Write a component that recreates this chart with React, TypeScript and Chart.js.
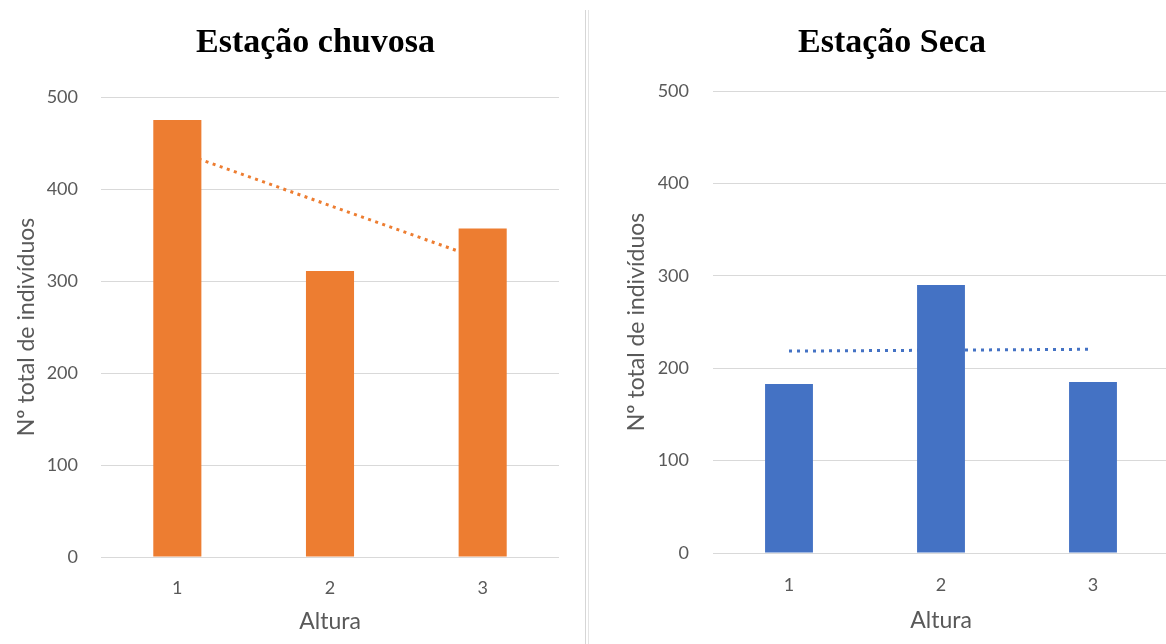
import React, { useEffect, useRef } from "react";
import { Chart, registerables } from "chart.js";

Chart.register(...registerables);

// ---- data ----
const categories = ["1", "2", "3"];
const rainyValues = [475, 311, 357];
const rainyTrend = [441, 382, 323];
const dryValues = [183, 290, 185];
const dryTrend = [218.5, 219.5, 220.5];
const yMin = 0;
const yMax = 500;
const yStep = 100;
const panelTitles = ["Estação chuvosa", "Estação Seca"];
const yAxisTitle = "Nº total de indivíduos";
const xAxisTitle = "Altura";

const ORANGE = "#ED7D31";
const BLUE = "#4472C4";
const GRID = "#D9D9D9";
const TEXT = "#595959";

type Panel = {
  title: string;
  values: number[];
  trend: number[];
  color: string;
  left: number;
  width: number;
  pad: { left: number; right: number; top: number; bottom: number };
  titlePad: { top: number; bottom: number };
  titleLeft: number | null;
  yWidth: number;
  yTitlePadTop: number;
  yTickPad: number;
  xHeight: number;
  xTickPad: number;
  xTitlePadBottom: number;
  dash: number[];
};

const panels: Panel[] = [
  {
    title: panelTitles[0],
    values: rainyValues,
    trend: rainyTrend,
    color: ORANGE,
    left: 0,
    width: 588,
    pad: { left: 0, right: 29, top: 0, bottom: 0 },
    titlePad: { top: 23, bottom: 33.2 },
    titleLeft: 72,
    yWidth: 101,
    yTitlePadTop: 13.2,
    yTickPad: 23,
    xHeight: 87,
    xTickPad: 20,
    xTitlePadBottom: 8.2,
    dash: [3, 4.5],
  },
  {
    title: panelTitles[1],
    values: dryValues,
    trend: dryTrend,
    color: BLUE,
    left: 590,
    width: 600,
    pad: { left: 25, right: 21, top: 0, bottom: 0 },
    titlePad: { top: 23, bottom: 27.2 },
    titleLeft: null,
    yWidth: 98,
    yTitlePadTop: 8.2,
    yTickPad: 24,
    xHeight: 91,
    xTickPad: 21,
    xTitlePadBottom: 9.2,
    dash: [3, 5],
  },
];

function ChartPanel({ p }: { p: Panel }) {
  const ref = useRef<HTMLCanvasElement | null>(null);
  useEffect(() => {
    if (!ref.current) return;
    const titleShift = {
      id: "titleShift",
      afterLayout(chart: any) {
        if (p.titleLeft !== null && chart.titleBlock) {
          chart.titleBlock.left = p.titleLeft;
        }
      },
    };
    const chart = new Chart(ref.current, {
      type: "bar",
      data: {
        labels: categories,
        datasets: [
          {
            type: "bar",
            data: p.values,
            backgroundColor: p.color,
            categoryPercentage: 0.315,
            barPercentage: 1,
            order: 0,
          } as any,
          {
            type: "line",
            data: p.trend,
            borderColor: p.color,
            borderWidth: 3,
            borderDash: p.dash,
            pointRadius: 0,
            fill: false,
            tension: 0,
            order: 1,
          } as any,
        ],
      },
      plugins: [titleShift],
      options: {
        animation: false,
        responsive: false,
        devicePixelRatio: 1,
        layout: { padding: p.pad },
        plugins: {
          legend: { display: false },
          tooltip: { enabled: false },
          title: {
            display: true,
            text: p.title,
            color: "#000000",
            font: { family: "'Liberation Serif', 'Times New Roman', serif", size: 34, weight: "bold" },
            padding: p.titlePad,
          },
        },
        scales: {
          x: {
            grid: { display: false, drawTicks: false },
            border: { display: false },
            ticks: {
              color: TEXT,
              font: { family: "Lato", size: 18 },
              padding: p.xTickPad,
            },
            title: {
              display: true,
              text: xAxisTitle,
              color: TEXT,
              font: { family: "Lato", size: 23 },
              padding: { top: 0, bottom: p.xTitlePadBottom },
            },
            afterFit: (s: any) => {
              s.height = p.xHeight;
            },
          },
          y: {
            min: yMin,
            max: yMax,
            grid: { color: GRID, lineWidth: 1, drawTicks: false },
            border: { display: false },
            ticks: {
              stepSize: yStep,
              color: TEXT,
              font: { family: "Lato", size: 18 },
              padding: p.yTickPad,
            },
            title: {
              display: true,
              text: yAxisTitle,
              color: TEXT,
              font: { family: "Lato", size: 23 },
              padding: { top: p.yTitlePadTop, bottom: 0 },
            },
            afterFit: (s: any) => {
              s.width = p.yWidth;
            },
          },
        },
      } as any,
    });
    return () => chart.destroy();
  }, [p]);
  return (
    <canvas
      ref={ref}
      width={p.width}
      height={644}
      style={{ position: "absolute", left: p.left, top: 0, width: p.width, height: 644 }}
    />
  );
}

export default function App() {
  return (
    <div
      style={{
        position: "fixed",
        left: 0,
        top: 0,
        width: 1166,
        height: 644,
        overflow: "hidden",
        background: "#ffffff",
      }}
    >
      <ChartPanel p={panels[0]} />
      <ChartPanel p={panels[1]} />
      <div
        style={{
          position: "absolute",
          left: 585,
          top: 10,
          width: 2,
          height: 634,
          borderLeft: "1px solid #D6D6D6",
          borderRight: "1px solid #E4E4E4",
        }}
      />
    </div>
  );
}
